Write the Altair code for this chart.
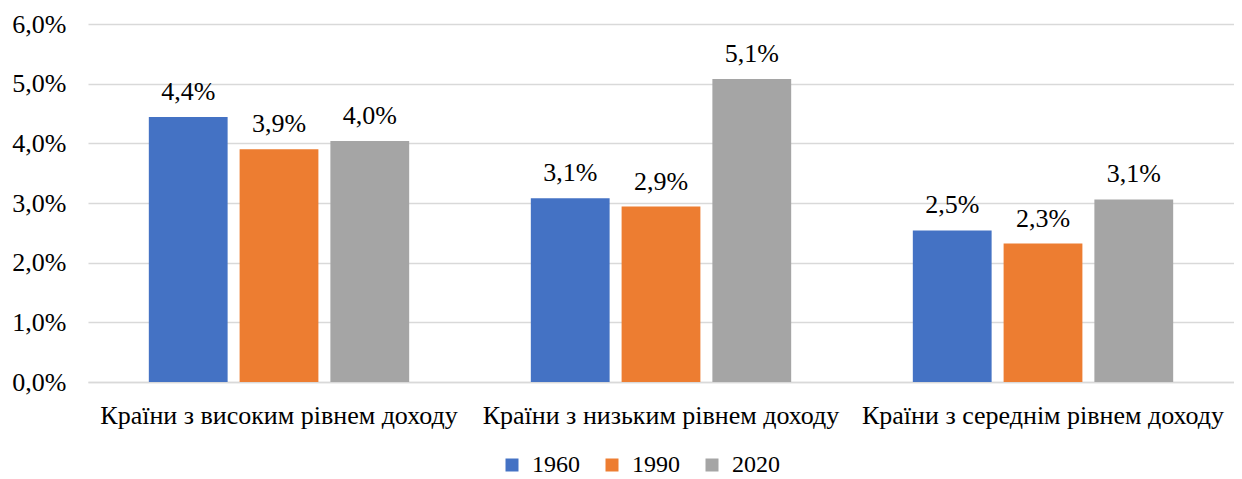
import altair as alt
import pandas as pd

categories = ["Країни з високим рівнем доходу", "Країни з низьким рівнем доходу", "Країни з середнім рівнем доходу"]
years = ["1960", "1990", "2020"]
v1960 = [4.44, 3.08, 2.54]
v1990 = [3.90, 2.94, 2.32]
v2020 = [4.04, 5.08, 3.06]
colors = ["#4472C4", "#ED7D31", "#A5A5A5"]

rows = []
for yr, vals in zip(years, [v1960, v1990, v2020]):
    for c, v in zip(categories, vals):
        rows.append({"cat": c, "year": yr, "value": v,
                     "label": f"{v:.1f}".replace(".", ",") + "%"})
df = pd.DataFrame(rows)

FONT = "Liberation Serif"
FS = 26

x = alt.X("cat:N", sort=categories, title=None,
          scale=alt.Scale(paddingInner=0, paddingOuter=0),
          axis=alt.Axis(labelAngle=0, labelFontSize=FS, labelColor="#000", labelFont=FONT,
                        ticks=False, domainColor="#d9d9d9", domainWidth=1.5, labelPadding=20,
                        labelLimit=400))
xo = alt.XOffset("year:N", sort=years, scale=alt.Scale(paddingInner=0.132, paddingOuter=0.67))
y = alt.Y("value:Q", title=None,
          scale=alt.Scale(domain=[0, 6]),
          axis=alt.Axis(values=[0, 1, 2, 3, 4, 5, 6], labelExpr="replace(format(datum.value, '.1f'), '.', ',') + '%'",
                        labelFontSize=FS, labelColor="#000", labelFont=FONT, ticks=False, domain=False,
                        gridColor="#d9d9d9", gridWidth=1.5, labelPadding=22))

bars = alt.Chart(df).mark_bar().encode(
    x=x, xOffset=xo, y=y,
    color=alt.Color("year:N", sort=years, scale=alt.Scale(domain=years, range=colors),
                    legend=alt.Legend(title=None, orient="none", direction="horizontal",
                                      legendX=412, legendY=429, padding=0,
                                      labelFontSize=24, labelFont=FONT, labelColor="#000",
                                      symbolType="square", symbolSize=169, symbolStrokeWidth=0,
                                      columnPadding=20, labelOffset=8))
)
text = alt.Chart(df).mark_text(baseline="alphabetic", dy=-17, fontSize=FS, font=FONT, color="#000").encode(
    x=alt.X("cat:N", sort=categories), xOffset=alt.XOffset("year:N", sort=years), y="value:Q", text="label:N"
)

chart = alt.layer(bars, text).properties(
    width=1146, height=358,
    autosize=alt.AutoSizeParams(type="none"),
    padding={"left": 80, "top": 16, "right": 0, "bottom": 95}
).configure_view(stroke=None)

chart.save("out.html", embed_options={"renderer": "svg", "actions": False})
